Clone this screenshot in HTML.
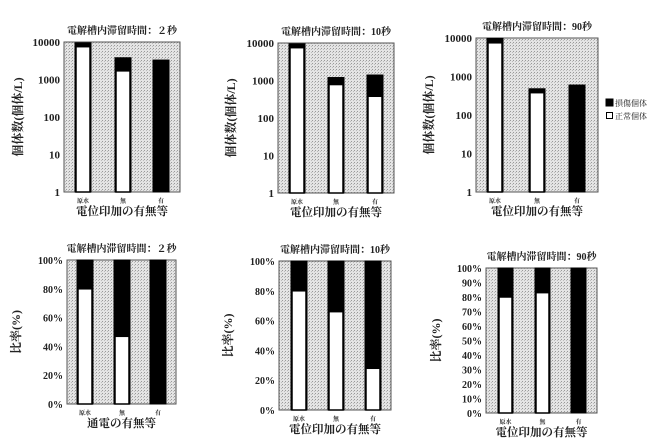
<!DOCTYPE html>
<html><head><meta charset="utf-8"><style>
body{margin:0;background:#fff}
svg{display:block}
text{font-family:"Liberation Serif","Noto Serif CJK SC","Noto Sans CJK JP",serif;fill:#222}
</style></head><body>
<svg id="s" width="665" height="448" viewBox="0 0 665 448" xmlns="http://www.w3.org/2000/svg">
<defs><pattern id="dots" width="3" height="3" patternUnits="userSpaceOnUse"><rect width="3" height="3" fill="#e4e4e4"/><rect width="1" height="1" fill="#999"/><rect x="2" y="1" width="1" height="1" fill="#bbb"/></pattern></defs>
<g>
<rect x="606" y="99" width="7" height="7" fill="#000" stroke="#000"/>
<text x="615" y="106" font-size="8">損傷個体</text>
<rect x="606.5" y="112.5" width="6" height="6" fill="#fff" stroke="#000"/>
<text x="615" y="119" font-size="8">正常個体</text>
</g>
</svg>
<script>
const categories=["原水","無","有"];
const titles=["電解槽内滞留時間：２秒","電解槽内滞留時間：10秒","電解槽内滞留時間：90秒"];
const logTicks=[1,10,100,1000,10000];
const pctTicks2s=[0,20,40,60,80,100];
const pctTicks10s=[0,20,40,60,80,100];
const pctTicks90s=[0,10,20,30,40,50,60,70,80,90,100];
const total2s=[9500,3800,3300];
const normal2s=[7500,1700,0];
const total10s=[9500,1200,1400];
const normal10s=[7500,780,380];
const total90s=[9800,480,600];
const normal90s=[7500,380,0];
const pctNormal2s=[80,47,0];
const pctNormal10s=[80,66,28];
const pctNormal90s=[80,83,0];

const svg=document.getElementById('s');
const NS="http://www.w3.org/2000/svg";
function mk(tag,attrs,parent){const e=document.createElementNS(NS,tag);for(const k in attrs)e.setAttribute(k,attrs[k]);(parent||svg).appendChild(e);return e;}

function chart(cfg){
  const g=mk('g',{});
  
  
  const {x0,x1,y0,y1}=cfg;
  const bg=mk('rect',{x:x0,y:y0,width:x1-x0,height:y1-y0,fill:'url(#dots)',stroke:'#555','stroke-width':1},g);
  
  
  let ys;
  if(cfg.log){const l0=Math.log10(cfg.ticks[0]),l1=Math.log10(cfg.ticks[cfg.ticks.length-1]);
    ys=v=>y1-(Math.log10(Math.max(v,cfg.ticks[0]))-l0)/(l1-l0)*(y1-y0);}
  else{const mx=cfg.ticks[cfg.ticks.length-1];ys=v=>y1-v/mx*(y1-y0);}
  cfg.ticks.forEach(t=>{
    const tx=mk('text',{x:x0-4,y:ys(t)+4,'font-size':cfg.log?11:10,'text-anchor':'end','font-weight':'bold'},g);
    tx.textContent=cfg.log?t:t+'%';
    
    
  });
  categories.forEach((c,i)=>{
    const bx=cfg.bx[i],bw=cfg.bw;
    const tot=cfg.log?cfg.total[i]:100;
    const nor=cfg.normal[i];
    const dmg=mk('rect',{x:bx,y:ys(tot),width:bw,height:y1-ys(tot),fill:'#000',stroke:'#000'},g);
    
    
    if(nor>(cfg.log?1:0)){
      const nr=mk('rect',{x:bx+1,y:ys(nor),width:bw-2,height:y1-ys(nor),fill:'#fff',stroke:'#000','stroke-width':1.5},g);
      
      
    }
    const cl=mk('text',{x:bx+bw/2,y:y1+11,'font-size':6,'text-anchor':'middle','font-weight':'bold'},g);
    cl.textContent=c;
    
    
  });
  const tt=mk('text',{x:(x0+x1)/2,y:y0-8,'font-size':10,'text-anchor':'middle','font-weight':'bold'},g);
  tt.textContent=cfg.title;
  
  
  const xl=mk('text',{x:(x0+x1)/2,y:y1+23,'font-size':11.5,'text-anchor':'middle','font-weight':'bold'},g);
  xl.textContent=cfg.xlabel;
  
  
  const cy=(y0+y1)/2;
  const yl=mk('text',{x:cfg.ylx,y:cy,'font-size':12,'text-anchor':'middle','font-weight':'bold',transform:`rotate(-90 ${cfg.ylx} ${cy})`},g);
  yl.textContent=cfg.ylabel;
  
  
}
const XL="電位印加の有無等";
chart({name:'chart-count-2s',x0:64,x1:180,y0:42,y1:192,log:true,ticks:logTicks,total:total2s,normal:normal2s,bx:[75,115,153],bw:16,title:titles[0],xlabel:XL,ylabel:"個体数(個体/L)",ylx:22});
chart({name:'chart-count-10s',x0:278,x1:394,y0:43,y1:193,log:true,ticks:logTicks,total:total10s,normal:normal10s,bx:[289,328,367],bw:16,title:titles[1],xlabel:XL,ylabel:"個体数(個体/L)",ylx:235});
chart({name:'chart-count-90s',x0:476,x1:598,y0:38,y1:192,log:true,ticks:logTicks,total:total90s,normal:normal90s,bx:[487,529,569],bw:16,title:titles[2],xlabel:XL,ylabel:"個体数(個体/L)",ylx:433});
chart({name:'chart-ratio-2s',x0:67,x1:176,y0:260,y1:404,log:false,ticks:pctTicks2s,normal:pctNormal2s,bx:[77,114,150],bw:16,title:titles[0],xlabel:"通電の有無等",ylabel:"比率(%)",ylx:20});
chart({name:'chart-ratio-10s',x0:279,x1:391,y0:261,y1:410,log:false,ticks:pctTicks10s,normal:pctNormal10s,bx:[291,328,365],bw:16,title:titles[1],xlabel:XL,ylabel:"比率(%)",ylx:232});
chart({name:'chart-ratio-90s',x0:486,x1:597,y0:268,y1:413,log:false,ticks:pctTicks90s,normal:pctNormal90s,bx:[498,535,571],bw:15,title:titles[2],xlabel:XL,ylabel:"比率(%)",ylx:440});
</script>
</body></html>
